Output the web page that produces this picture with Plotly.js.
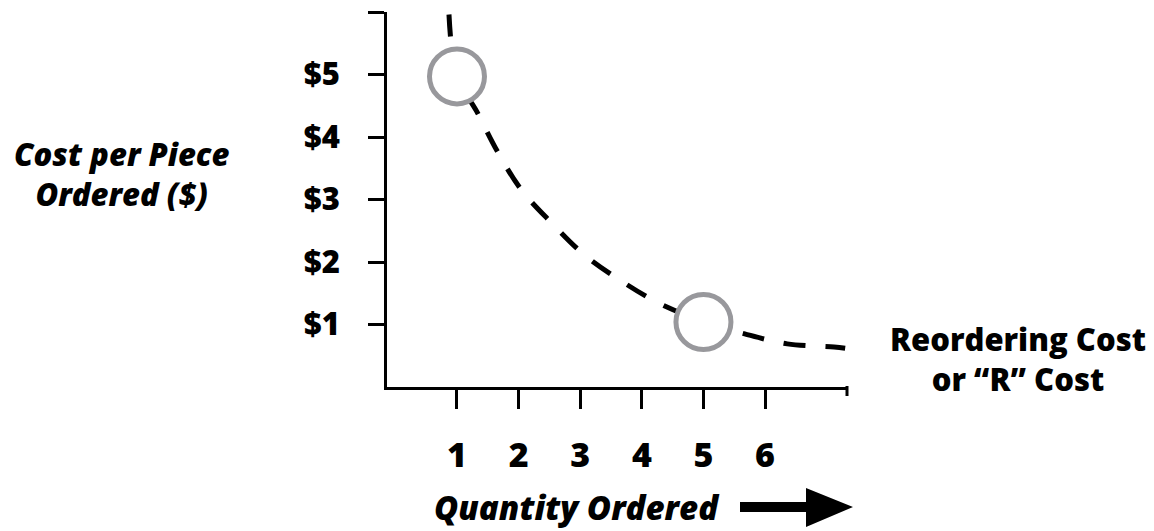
<!DOCTYPE html>
<html>
<head>
<meta charset="utf-8">
<script src="https://cdn.plot.ly/plotly-3.0.1.min.js"></script>
<style>
  html, body { margin: 0; padding: 0; background: #ffffff; }
  #chart { width: 1154px; height: 531px; }
</style>
</head>
<body>
<div id="chart"></div>
<script>
// ---- data ----
var quantity = [0.87, 1.0, 1.32, 1.65, 2.04, 2.53, 3.06, 3.66, 4.30, 5.03, 5.67, 6.36, 7.12, 7.30];
var costPerPiece = [5.96, 4.97, 4.41, 3.78, 3.16, 2.63, 2.12, 1.70, 1.33, 1.04, 0.85, 0.69, 0.64, 0.62];
var markedQuantity = [1, 5];
var markedCost = [4.97, 1.04];
var xTickVals = [1, 2, 3, 4, 5, 6];
var xTickText = ['1', '2', '3', '4', '5', '6'];
var yTickVals = [1, 2, 3, 4, 5, 6];
var yTickText = ['$1', '$2', '$3', '$4', '$5', ''];
var yTitleLines = ['Cost per Piece', 'Ordered ($)'];
var xTitle = 'Quantity Ordered';
var noteLines = ['Reordering Cost', 'or \u201cR\u201d Cost'];

// ---- geometry ----
var W = 1154, H = 531;
var M = { l: 387, r: 306, t: 12, b: 144 };
var PW = W - M.l - M.r, PH = H - M.t - M.b;
function px(x) { return (x - M.l) / PW; }
function py(y) { return (H - M.b - y) / PH; }

var FONT = '"Open Sans", "Noto Sans", sans-serif';

var curve = {
  x: quantity, y: costPerPiece,
  type: 'scatter', mode: 'lines',
  line: { color: '#000000', width: 5, dash: '22px,20px', shape: 'spline', smoothing: 1.0 },
  hoverinfo: 'none', cliponaxis: false
};
var circles = {
  x: markedQuantity, y: markedCost,
  type: 'scatter', mode: 'markers',
  marker: { size: 55, color: '#ffffff', line: { color: '#98989c', width: 5 } },
  hoverinfo: 'none', cliponaxis: false
};

var arrowPath = 'M ' + px(740) + ' ' + py(502) +
  ' L ' + px(806) + ' ' + py(502) +
  ' L ' + px(806) + ' ' + py(488) +
  ' L ' + px(853) + ' ' + py(507) +
  ' L ' + px(806) + ' ' + py(527) +
  ' L ' + px(806) + ' ' + py(512) +
  ' L ' + px(740) + ' ' + py(512) + ' Z';

function textAnn(text, x, y, size) {
  return { xref: 'paper', yref: 'paper', x: px(x), y: py(y),
    xanchor: 'center', yanchor: 'middle', showarrow: false, align: 'center',
    text: text, font: { family: FONT, size: size, color: '#000000', weight: 800 } };
}

var layout = {
  width: W, height: H,
  margin: M,
  paper_bgcolor: '#ffffff', plot_bgcolor: '#ffffff',
  showlegend: false,
  xaxis: {
    range: [-0.136, 7.346],
    showgrid: false, zeroline: false,
    showline: true, linecolor: '#000000', linewidth: 3,
    ticks: 'outside', ticklen: 19, tickwidth: 3, tickcolor: '#000000',
    tickvals: xTickVals, ticktext: xTickText,
    ticklabelstandoff: 17,
    tickfont: { family: FONT, size: 34, color: '#000000', weight: 800 },
    fixedrange: true
  },
  yaxis: {
    range: [0, 6],
    showgrid: false, zeroline: false,
    showline: true, linecolor: '#000000', linewidth: 3,
    ticks: 'outside', ticklen: 16, tickwidth: 3, tickcolor: '#000000',
    tickvals: yTickVals, ticktext: yTickText,
    ticklabelstandoff: 22,
    tickfont: { family: FONT, size: 31, color: '#000000', weight: 800 },
    fixedrange: true
  },
  shapes: [
    { type: 'line', xref: 'paper', yref: 'paper',
      x0: px(847), x1: px(847), y0: py(386), y1: py(396),
      line: { color: '#000000', width: 3 } },
    { type: 'path', xref: 'paper', yref: 'paper', path: arrowPath,
      fillcolor: '#000000', line: { color: '#000000', width: 0 } }
  ],
  annotations: [
    textAnn('<i>' + yTitleLines.join('<br>') + '</i>', 121, 174, 31),
    textAnn('<i>' + xTitle + '</i>', 577, 507, 33),
    textAnn(noteLines.join('<br>'), 1018, 359, 31)
  ]
};

Plotly.newPlot('chart', [curve, circles], layout, { staticPlot: true, displayModeBar: false });
</script>
</body>
</html>
